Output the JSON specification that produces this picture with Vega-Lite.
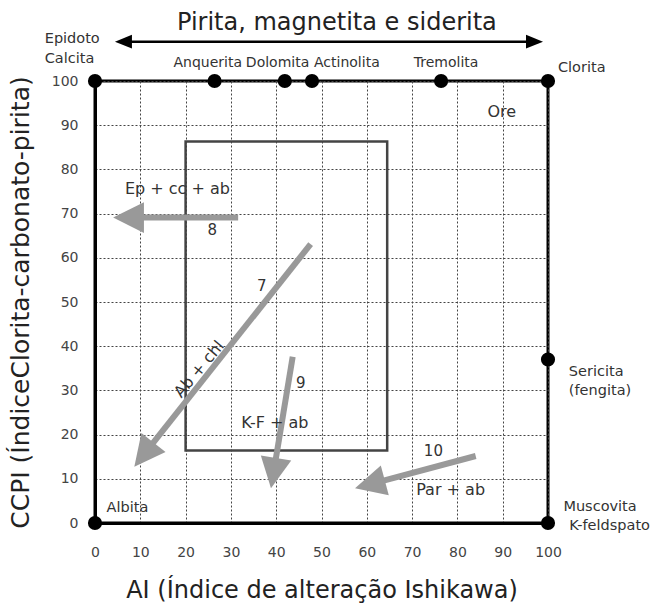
{
  "$schema": "https://vega.github.io/schema/vega-lite/v6.json",
  "width": 453,
  "height": 442,
  "autosize": {"type": "none"},
  "padding": {"left": 95, "top": 81, "right": 105, "bottom": 82},
  "background": "white",
  "config": {
    "view": {"stroke": "black", "strokeWidth": 3},
    "font": "DejaVu Sans"
  },
  "datasets": {
    "minerals": [
      {"ai": 0, "ccpi": 100, "name": "Epidoto/Calcita"},
      {"ai": 26.4, "ccpi": 100, "name": "Anquerita"},
      {"ai": 41.9, "ccpi": 100, "name": "Dolomita"},
      {"ai": 47.9, "ccpi": 100, "name": "Actinolita"},
      {"ai": 76.4, "ccpi": 100, "name": "Tremolita"},
      {"ai": 100, "ccpi": 100, "name": "Clorita"},
      {"ai": 100, "ccpi": 37, "name": "Sericita"},
      {"ai": 0, "ccpi": 0, "name": "Albita"},
      {"ai": 100, "ccpi": 0, "name": "Muscovita/K-feldspato"}
    ],
    "box": [
      {"ai": 20, "ccpi": 16.4, "ai2": 64.5, "ccpi2": 86.3}
    ],
    "arrows": [
      {"arrow": "8", "o": 1, "ai": 31.6, "ccpi": 69.1},
      {"arrow": "8", "o": 2, "ai": 7.35, "ccpi": 69.1},
      {"arrow": "7", "o": 1, "ai": 47.6, "ccpi": 63.1},
      {"arrow": "7", "o": 2, "ai": 10.73, "ccpi": 15.41},
      {"arrow": "9", "o": 1, "ai": 43.64, "ccpi": 37.62},
      {"arrow": "9", "o": 2, "ai": 39.38, "ccpi": 11.2},
      {"arrow": "10", "o": 1, "ai": 84.04, "ccpi": 15.16},
      {"arrow": "10", "o": 2, "ai": 60.6, "ccpi": 8.73}
    ],
    "heads": [
      {"arrow": "8", "ai": 4.0, "ccpi": 69.1, "dir": 270},
      {"arrow": "7", "ai": 8.68, "ccpi": 12.74, "dir": 218.4},
      {"arrow": "9", "ai": 38.85, "ccpi": 7.85, "dir": 189.4},
      {"arrow": "10", "ai": 57.4, "ccpi": 7.85, "dir": 255}
    ],
    "toparrow": [
      {"o": 1, "ai": 6.6, "ccpi": 108.9},
      {"o": 2, "ai": 96.7, "ccpi": 108.9}
    ],
    "topheads": [
      {"ai": 4.4, "ccpi": 108.9, "dir": 270},
      {"ai": 98.9, "ccpi": 108.9, "dir": 90}
    ],
    "texts": [
      {"kind": "mineral", "ai": 24.9, "ccpi": 104.0, "label": "Anquerita"},
      {"kind": "mineral", "ai": 40.3, "ccpi": 104.0, "label": "Dolomita"},
      {"kind": "mineral", "ai": 55.6, "ccpi": 104.0, "label": "Actinolita"},
      {"kind": "mineral", "ai": 77.5, "ccpi": 104.0, "label": "Tremolita"},
      {"kind": "side", "ai": -11.1, "ccpi": 109.4, "label": "Epidoto"},
      {"kind": "side", "ai": -11.1, "ccpi": 104.9, "label": "Calcita"},
      {"kind": "side", "ai": 102.2, "ccpi": 102.9, "label": "Clorita"},
      {"kind": "side", "ai": 104.6, "ccpi": 34.2, "label": "Sericita"},
      {"kind": "side", "ai": 104.6, "ccpi": 29.9, "label": "(fengita)"},
      {"kind": "side", "ai": 103.4, "ccpi": 3.7, "label": "Muscovita"},
      {"kind": "side", "ai": 104.7, "ccpi": -0.6, "label": "K-feldspato"},
      {"kind": "side", "ai": 2.56, "ccpi": 3.3, "label": "Albita"},
      {"kind": "annot", "ai": 18.2, "ccpi": 75.5, "label": "Ep + cc + ab"},
      {"kind": "annot", "ai": 39.7, "ccpi": 22.6, "label": "K-F + ab"},
      {"kind": "annot", "ai": 78.5, "ccpi": 7.5, "label": "Par + ab"},
      {"kind": "annot", "ai": 89.8, "ccpi": 93.0, "label": "Ore"},
      {"kind": "num", "ai": 36.8, "ccpi": 53.7, "label": "7"},
      {"kind": "num", "ai": 25.9, "ccpi": 66.4, "label": "8"},
      {"kind": "num", "ai": 45.4, "ccpi": 31.6, "label": "9"},
      {"kind": "num", "ai": 74.7, "ccpi": 16.4, "label": "10"},
      {"kind": "rot", "ai": 23.0, "ccpi": 34.8, "label": "Ab + chl"},
      {"kind": "title", "ai": 53.4, "ccpi": 113.2, "label": "Pirita, magnetita e siderita"}
    ]
  },
  "encoding": {
    "x": {
      "field": "ai",
      "type": "quantitative",
      "scale": {"domain": [0, 100], "nice": false, "zero": false},
      "axis": {
        "values": [0, 10, 20, 30, 40, 50, 60, 70, 80, 90, 100],
        "title": "AI (Índice de alteração Ishikawa)",
        "grid": true,
        "gridDash": [2, 2],
        "gridColor": "#444",
        "gridWidth": 1,
        "ticks": false,
        "tickSize": 0,
        "domainColor": "black",
        "domainWidth": 3,
        "labelFont": "DejaVu Sans",
        "labelFontSize": 14,
        "labelColor": "#444",
        "labelPadding": 22,
        "labelFlush": false,
        "labelOverlap": false,
        "titleFont": "DejaVu Sans",
        "titleFontSize": 24,
        "titleFontWeight": "normal",
        "titleColor": "#222",
        "titlePadding": 19
      }
    },
    "y": {
      "field": "ccpi",
      "type": "quantitative",
      "scale": {"domain": [0, 100], "nice": false, "zero": false},
      "axis": {
        "values": [0, 10, 20, 30, 40, 50, 60, 70, 80, 90, 100],
        "title": "CCPI (ÍndiceClorita-carbonato-pirita)",
        "grid": true,
        "gridDash": [2, 2],
        "gridColor": "#444",
        "gridWidth": 1,
        "ticks": false,
        "tickSize": 0,
        "domainColor": "black",
        "domainWidth": 3,
        "labelFont": "DejaVu Sans",
        "labelFontSize": 14,
        "labelColor": "#444",
        "labelPadding": 17,
        "labelFlush": false,
        "labelOverlap": false,
        "titleFont": "DejaVu Sans",
        "titleFontSize": 25,
        "titleFontWeight": "normal",
        "titleColor": "#222",
        "titlePadding": 18
      }
    }
  },
  "layer": [
    {
      "data": {"name": "box"},
      "mark": {"type": "rect", "fillOpacity": 0, "stroke": "#444", "strokeWidth": 2.5},
      "encoding": {
        "x2": {"field": "ai2"},
        "y2": {"field": "ccpi2"}
      }
    },
    {
      "data": {"name": "arrows"},
      "mark": {"type": "line", "color": "#999", "strokeWidth": 6, "strokeCap": "butt"},
      "encoding": {
        "detail": {"field": "arrow", "type": "nominal"},
        "order": {"field": "o", "type": "quantitative"}
      }
    },
    {
      "data": {"name": "heads"},
      "mark": {"type": "point", "shape": "M0,0 L1,2 L-1,2 Z", "filled": true, "color": "#999", "opacity": 1, "size": 950},
      "encoding": {
        "angle": {"field": "dir", "type": "quantitative", "scale": null}
      }
    },
    {
      "data": {"name": "toparrow"},
      "mark": {"type": "line", "color": "black", "strokeWidth": 2.5, "clip": false},
      "encoding": {
        "order": {"field": "o", "type": "quantitative"}
      }
    },
    {
      "data": {"name": "topheads"},
      "mark": {"type": "point", "shape": "M0,0 L0.8,2 L-0.8,2 Z", "filled": true, "color": "black", "opacity": 1, "size": 289},
      "encoding": {
        "angle": {"field": "dir", "type": "quantitative", "scale": null}
      }
    },
    {
      "data": {"name": "minerals"},
      "mark": {"type": "point", "shape": "circle", "filled": true, "color": "black", "opacity": 1, "size": 200}
    },
    {
      "data": {"name": "texts"},
      "transform": [{"filter": "datum.kind == 'mineral'"}],
      "mark": {"type": "text", "fontSize": 14, "color": "#333", "align": "center", "baseline": "middle"},
      "encoding": {"text": {"field": "label"}}
    },
    {
      "data": {"name": "texts"},
      "transform": [{"filter": "datum.kind == 'side'"}],
      "mark": {"type": "text", "fontSize": 14.5, "color": "#333", "align": "left", "baseline": "middle"},
      "encoding": {"text": {"field": "label"}}
    },
    {
      "data": {"name": "texts"},
      "transform": [{"filter": "datum.kind == 'annot'"}],
      "mark": {"type": "text", "fontSize": 16, "color": "#333", "align": "center", "baseline": "middle"},
      "encoding": {"text": {"field": "label"}}
    },
    {
      "data": {"name": "texts"},
      "transform": [{"filter": "datum.kind == 'num'"}],
      "mark": {"type": "text", "fontSize": 15, "color": "#333", "align": "center", "baseline": "middle"},
      "encoding": {"text": {"field": "label"}}
    },
    {
      "data": {"name": "texts"},
      "transform": [{"filter": "datum.kind == 'rot'"}],
      "mark": {"type": "text", "fontSize": 16, "color": "#333", "align": "center", "baseline": "middle", "angle": 310},
      "encoding": {"text": {"field": "label"}}
    },
    {
      "data": {"name": "texts"},
      "transform": [{"filter": "datum.kind == 'title'"}],
      "mark": {"type": "text", "fontSize": 24, "color": "#222", "align": "center", "baseline": "middle"},
      "encoding": {"text": {"field": "label"}}
    }
  ]
}
